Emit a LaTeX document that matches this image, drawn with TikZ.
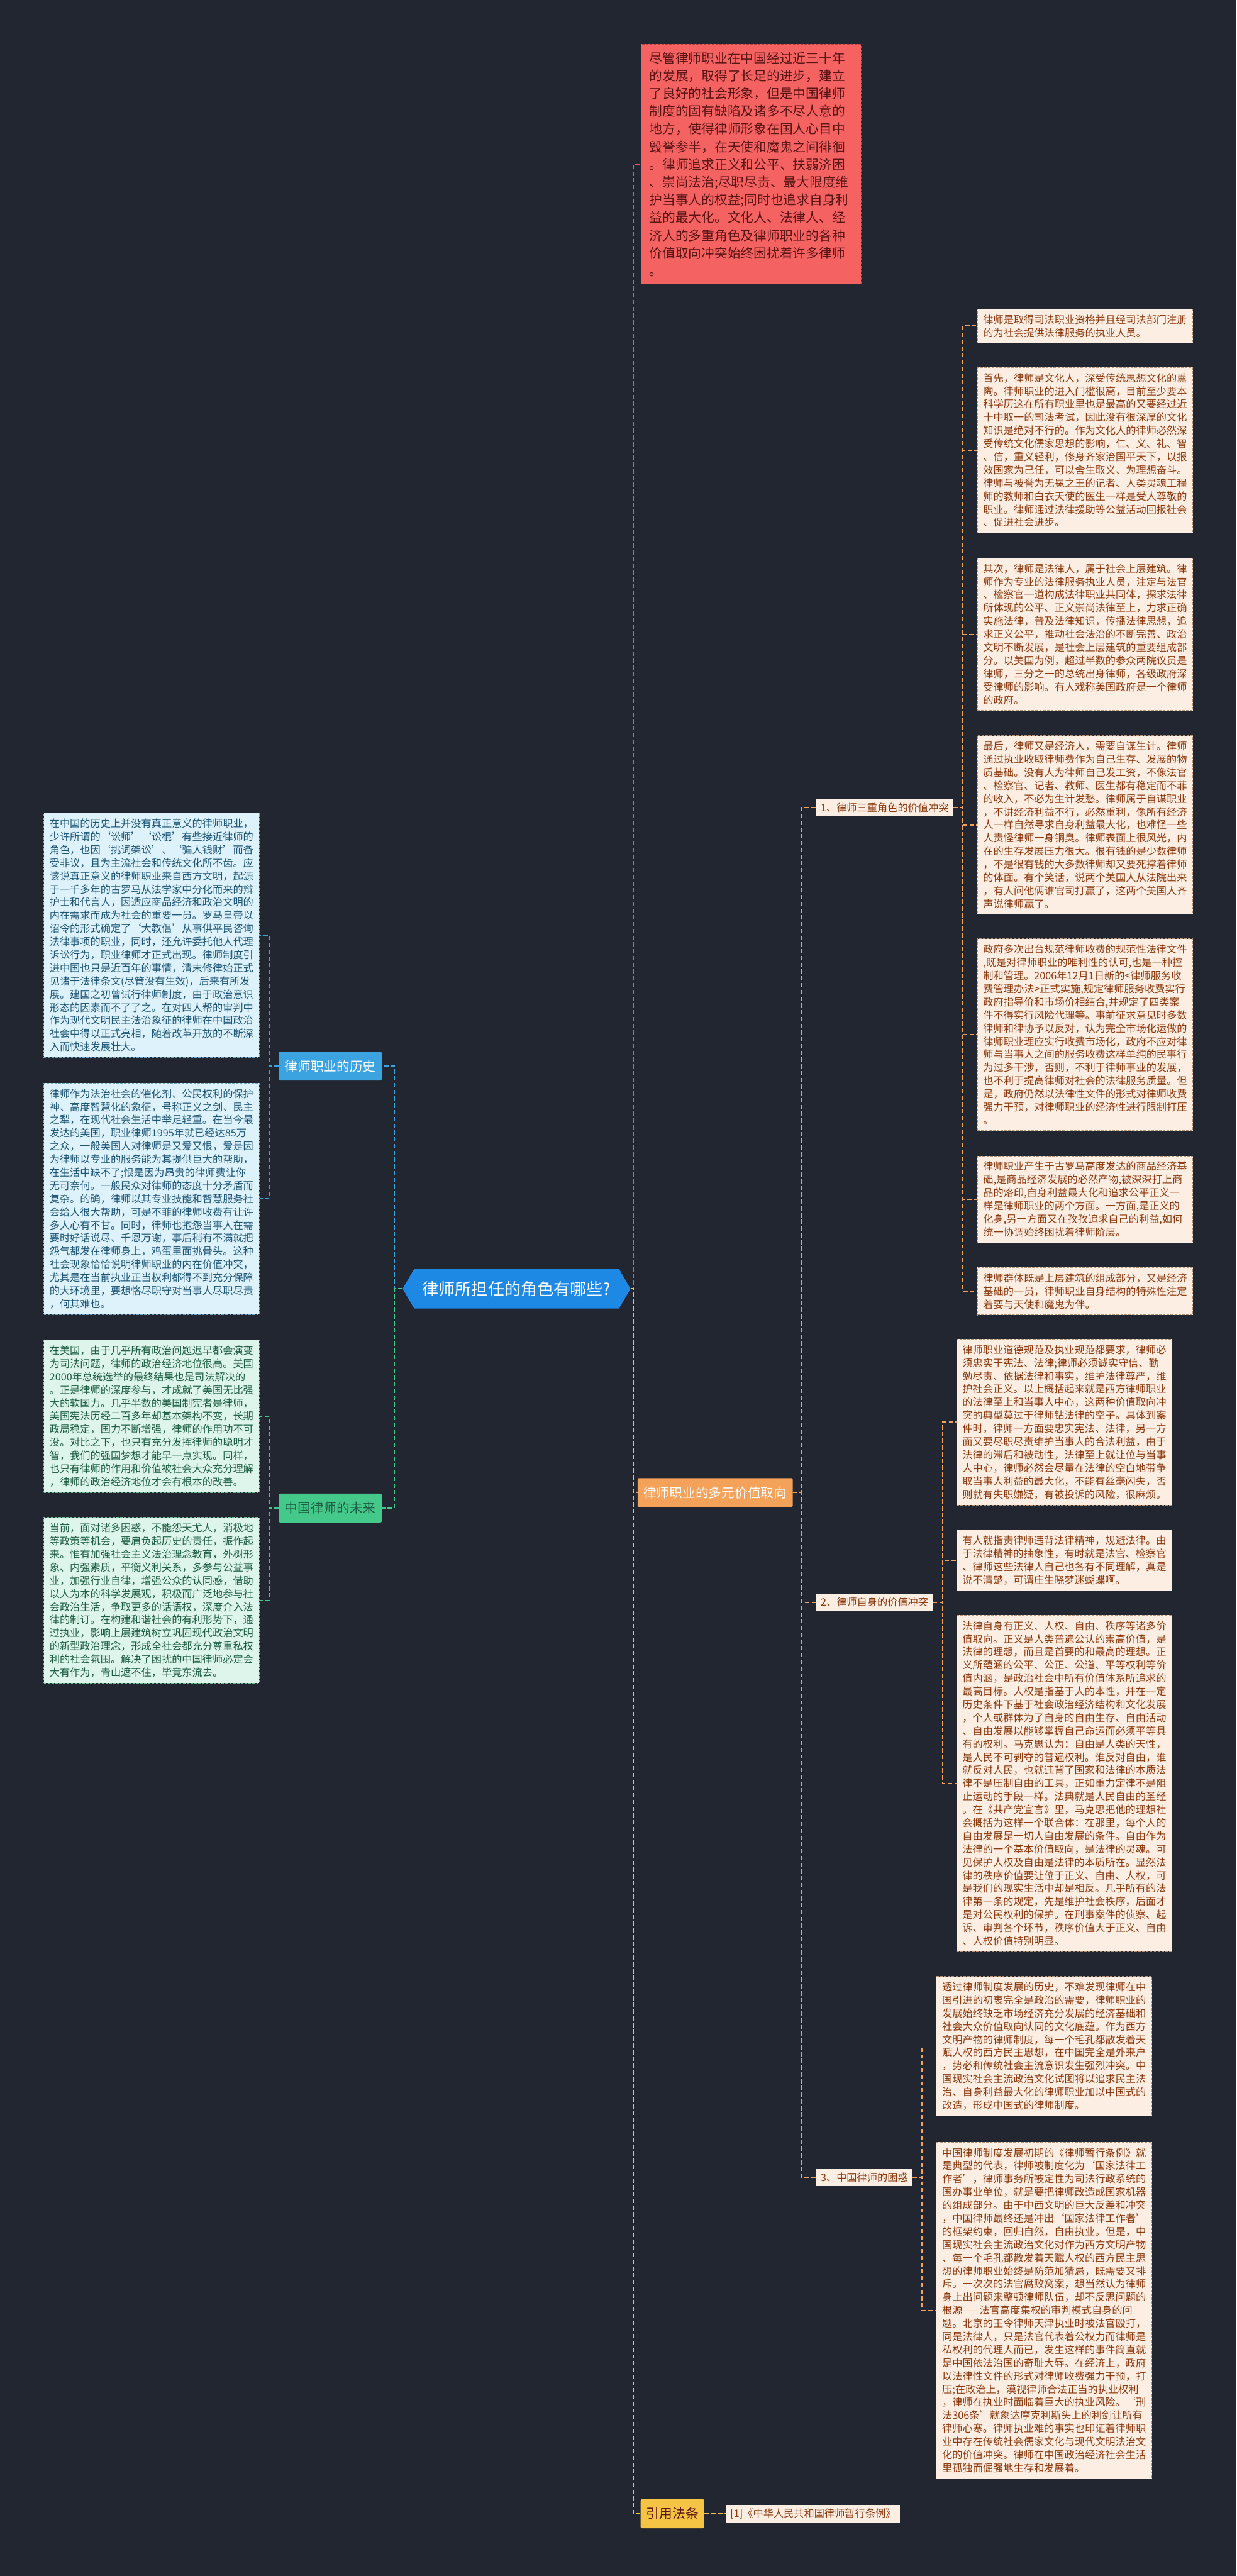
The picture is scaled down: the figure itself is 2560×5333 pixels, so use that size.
\documentclass[tikz,border=0pt]{standalone}
\usepackage{fontspec}
\setmainfont{Noto Sans CJK SC}
\usetikzlibrary{shapes.symbols}

\definecolor{bgnavy}{HTML}{222630}
\definecolor{rootblue}{HTML}{1E88E5}
\definecolor{redfill}{HTML}{F46262}
\definecolor{redtext}{HTML}{5A1414}
\definecolor{rededge}{HTML}{B84040}
\definecolor{peachfill}{HTML}{FDEEE3}
\definecolor{peachtext}{HTML}{8B3A0E}
\definecolor{peachedge}{HTML}{B89478}
\definecolor{bluefill}{HTML}{DDF2FB}
\definecolor{bluetext}{HTML}{1D5577}
\definecolor{blueedge}{HTML}{6FA8C8}
\definecolor{greenfill}{HTML}{DDF5EA}
\definecolor{greentext}{HTML}{1E5E44}
\definecolor{greenedge}{HTML}{6FBF98}
\definecolor{histblue}{HTML}{3AA3E0}
\definecolor{futuregreen}{HTML}{45C98A}
\definecolor{multiorange}{HTML}{F4A259}
\definecolor{citeyellow}{HTML}{F6C445}
\definecolor{introred}{HTML}{E85A5A}

\tikzset{
  leaf/.style={draw, line width=1.2pt, dash pattern=on 5pt off 3pt, anchor=west,
    align=left, text width=422pt, inner xsep=12pt, inner ysep=12pt,
    font=\fontsize{21.1pt}{27.2pt}\selectfont},
  peachleaf/.style={leaf, fill=peachfill, draw=peachedge, text=peachtext},
  blueleaf/.style={leaf, fill=bluefill, draw=blueedge, text=bluetext},
  greenleaf/.style={leaf, fill=greenfill, draw=greenedge, text=greentext},
  introbox/.style={draw=rededge, line width=1.2pt, dash pattern=on 5pt off 3pt,
    fill=redfill, text=redtext, anchor=west, align=left, text width=421pt,
    inner xsep=17pt, inner ysep=16pt, font=\fontsize{27pt}{36.7pt}\selectfont},
  rootnode/.style={signal, signal to=west and east, signal pointer angle=120,
    fill=rootblue, text=white, inner xsep=17pt, minimum height=82pt,
    font=\fontsize{34pt}{40pt}\selectfont},
  branch/.style={rounded corners=3pt, anchor=west, inner xsep=12pt,
    minimum height=60pt, font=\fontsize{27pt}{32pt}\selectfont},
  sublabel/.style={fill=peachfill, text=peachtext, anchor=west, inner xsep=9pt,
    minimum height=36pt, font=\fontsize{21.1pt}{25pt}\selectfont},
  link/.style={line width=2.5pt, dash pattern=on 9pt off 5pt},
}

\begin{document}
\begin{tikzpicture}[x=1pt,y=-1pt]
\useasboundingbox (0,0) rectangle (2560,5333);
\fill[bgnavy] (0,0) rectangle (2560,5333);

% root
\node (root) [rootnode] at (1069.5,2668) {律师所担任的角色有哪些?};

% left: history
\node (hist) [branch, fill=histblue, text=white] at (577,2207) {律师职业的历史};
\node (h1) [blueleaf] at (90,1936) {在中国的历史上并没有真正意义的律师职业，\\
少许所谓的‘讼师’‘讼棍’有些接近律师的\\
角色，也因‘挑词架讼’、‘骗人钱财’而备\\
受非议，且为主流社会和传统文化所不齿。应\\
该说真正意义的律师职业来自西方文明，起源\\
于一千多年的古罗马从法学家中分化而来的辩\\
护士和代言人，因适应商品经济和政治文明的\\
内在需求而成为社会的重要一员。罗马皇帝以\\
诏令的形式确定了‘大教侣’从事供平民咨询\\
法律事项的职业，同时，还允许委托他人代理\\
诉讼行为，职业律师才正式出现。律师制度引\\
进中国也只是近百年的事情，清末修律始正式\\
见诸于法律条文(尽管没有生效)，后来有所发\\
展。建国之初曾试行律师制度，由于政治意识\\
形态的因素而不了了之。在对四人帮的审判中\\
作为现代文明民主法治象征的律师在中国政治\\
社会中得以正式亮相，随着改革开放的不断深\\
入而快速发展壮大。};
\node (h2) [blueleaf] at (90,2482) {律师作为法治社会的催化剂、公民权利的保护\\
神、高度智慧化的象征，号称正义之剑、民主\\
之犁，在现代社会生活中举足轻重。在当今最\\
发达的美国，职业律师1995年就已经达85万\\
之众，一般美国人对律师是又爱又恨，爱是因\\
为律师以专业的服务能为其提供巨大的帮助，\\
在生活中缺不了;恨是因为昂贵的律师费让你\\
无可奈何。一般民众对律师的态度十分矛盾而\\
复杂。的确，律师以其专业技能和智慧服务社\\
会给人很大帮助，可是不菲的律师收费有让许\\
多人心有不甘。同时，律师也抱怨当事人在需\\
要时好话说尽、千恩万谢，事后稍有不满就把\\
怨气都发在律师身上，鸡蛋里面挑骨头。这种\\
社会现象恰恰说明律师职业的内在价值冲突，\\
尤其是在当前执业正当权利都得不到充分保障\\
的大环境里，要想恪尽职守对当事人尽职尽责\\
，何其难也。};

% left: future
\node (future) [branch, fill=futuregreen, text=greentext] at (577,3122) {中国律师的未来};
\node (f1) [greenleaf] at (90,2932) {在美国，由于几乎所有政治问题迟早都会演变\\
为司法问题，律师的政治经济地位很高。美国\\
2000年总统选举的最终结果也是司法解决的\\
。正是律师的深度参与，才成就了美国无比强\\
大的软国力。几乎半数的美国制宪者是律师，\\
美国宪法历经二百多年却基本架构不变，长期\\
政局稳定，国力不断增强，律师的作用功不可\\
没。对比之下，也只有充分发挥律师的聪明才\\
智，我们的强国梦想才能早一点实现。同样，\\
也只有律师的作用和价值被社会大众充分理解\\
，律师的政治经济地位才会有根本的改善。};
\node (f2) [greenleaf] at (90,3313) {当前，面对诸多困惑，不能怨天尤人，消极地\\
等政策等机会，要肩负起历史的责任，振作起\\
来。惟有加强社会主义法治理念教育，外树形\\
象、内强素质，平衡义利关系，多参与公益事\\
业，加强行业自律，增强公众的认同感，借助\\
以人为本的科学发展观，积极而广泛地参与社\\
会政治生活，争取更多的话语权，深度介入法\\
律的制订。在构建和谐社会的有利形势下，通\\
过执业，影响上层建筑树立巩固现代政治文明\\
的新型政治理念，形成全社会都充分尊重私权\\
利的社会氛围。解决了困扰的中国律师必定会\\
大有作为，青山遮不住，毕竟东流去。};

% right: intro
\node (intro) [introbox] at (1327,340) {尽管律师职业在中国经过近三十年\\
的发展，取得了长足的进步，建立\\
了良好的社会形象，但是中国律师\\
制度的固有缺陷及诸多不尽人意的\\
地方，使得律师形象在国人心目中\\
毁誉参半，在天使和魔鬼之间徘徊\\
。律师追求正义和公平、扶弱济困\\
、崇尚法治;尽职尽责、最大限度维\\
护当事人的权益;同时也追求自身利\\
益的最大化。文化人、法律人、经\\
济人的多重角色及律师职业的各种\\
价值取向冲突始终困扰着许多律师\\
。};

% right: multiple values
\node (multi) [branch, fill=multiorange, text=white] at (1320,3090) {律师职业的多元价值取向};
\node (roles) [sublabel] at (1690,1672) {1、律师三重角色的价值冲突};
\node (selfv) [sublabel] at (1690,3317) {2、律师自身的价值冲突};
\node (puzzle) [sublabel] at (1690,4508) {3、中国律师的困惑};

\node (r1) [peachleaf] at (2023,675) {律师是取得司法职业资格并且经司法部门注册\\
的为社会提供法律服务的执业人员。};
\node (r2) [peachleaf] at (2023,932) {首先，律师是文化人，深受传统思想文化的熏\\
陶。律师职业的进入门槛很高，目前至少要本\\
科学历这在所有职业里也是最高的又要经过近\\
十中取一的司法考试，因此没有很深厚的文化\\
知识是绝对不行的。作为文化人的律师必然深\\
受传统文化儒家思想的影响，仁、义、礼、智\\
、信，重义轻利，修身齐家治国平天下，以报\\
效国家为己任，可以舍生取义、为理想奋斗。\\
律师与被誉为无冕之王的记者、人类灵魂工程\\
师的教师和白衣天使的医生一样是受人尊敬的\\
职业。律师通过法律援助等公益活动回报社会\\
、促进社会进步。};
\node (r3) [peachleaf] at (2023,1313) {其次，律师是法律人，属于社会上层建筑。律\\
师作为专业的法律服务执业人员，注定与法官\\
、检察官一道构成法律职业共同体，探求法律\\
所体现的公平、正义崇尚法律至上，力求正确\\
实施法律，普及法律知识，传播法律思想，追\\
求正义公平，推动社会法治的不断完善、政治\\
文明不断发展，是社会上层建筑的重要组成部\\
分。以美国为例，超过半数的参众两院议员是\\
律师，三分之一的总统出身律师，各级政府深\\
受律师的影响。有人戏称美国政府是一个律师\\
的政府。};
\node (r4) [peachleaf] at (2023,1708) {最后，律师又是经济人，需要自谋生计。律师\\
通过执业收取律师费作为自己生存、发展的物\\
质基础。没有人为律师自己发工资，不像法官\\
、检察官、记者、教师、医生都有稳定而不菲\\
的收入，不必为生计发愁。律师属于自谋职业\\
，不讲经济利益不行，必然重利，像所有经济\\
人一样自然寻求自身利益最大化，也难怪一些\\
人责怪律师一身铜臭。律师表面上很风光，内\\
在的生存发展压力很大。很有钱的是少数律师\\
，不是很有钱的大多数律师却又要死撑着律师\\
的体面。有个笑话，说两个美国人从法院出来\\
，有人问他俩谁官司打赢了，这两个美国人齐\\
声说律师赢了。};
\node (r5) [peachleaf] at (2023,2142) {政府多次出台规范律师收费的规范性法律文件\\
,既是对律师职业的唯利性的认可,也是一种控\\
制和管理。2006年12月1日新的<律师服务收\\
费管理办法>正式实施,规定律师服务收费实行\\
政府指导价和市场价相结合,并规定了四类案\\
件不得实行风险代理等。事前征求意见时多数\\
律师和律协予以反对，认为完全市场化运做的\\
律师职业理应实行收费市场化，政府不应对律\\
师与当事人之间的服务收费这样单纯的民事行\\
为过多干涉，否则，不利于律师事业的发展，\\
也不利于提高律师对社会的法律服务质量。但\\
是，政府仍然以法律性文件的形式对律师收费\\
强力干预，对律师职业的经济性进行限制打压\\
。};
\node (r6) [peachleaf] at (2023,2483) {律师职业产生于古罗马高度发达的商品经济基\\
础,是商品经济发展的必然产物,被深深打上商\\
品的烙印,自身利益最大化和追求公平正义一\\
样是律师职业的两个方面。一方面,是正义的\\
化身,另一方面又在孜孜追求自己的利益,如何\\
统一协调始终困扰着律师阶层。};
\node (r7) [peachleaf] at (2023,2673) {律师群体既是上层建筑的组成部分，又是经济\\
基础的一员，律师职业自身结构的特殊性注定\\
着要与天使和魔鬼为伴。};

\node (s1) [peachleaf] at (1980,2944) {律师职业道德规范及执业规范都要求，律师必\\
须忠实于宪法、法律;律师必须诚实守信、勤\\
勉尽责、依据法律和事实，维护法律尊严，维\\
护社会正义。以上概括起来就是西方律师职业\\
的法律至上和当事人中心，这两种价值取向冲\\
突的典型莫过于律师钻法律的空子。具体到案\\
件时，律师一方面要忠实宪法、法律，另一方\\
面又要尽职尽责维护当事人的合法利益，由于\\
法律的滞后和被动性，法律至上就让位与当事\\
人中心，律师必然会尽量在法律的空白地带争\\
取当事人利益的最大化，不能有丝毫闪失，否\\
则就有失职嫌疑，有被投诉的风险，很麻烦。};
\node (s2) [peachleaf] at (1980,3230) {有人就指责律师违背法律精神，规避法律。由\\
于法律精神的抽象性，有时就是法官、检察官\\
、律师这些法律人自己也各有不同理解，真是\\
说不清楚，可谓庄生晓梦迷蝴蝶啊。};
\node (s3) [peachleaf] at (1980,3692) {法律自身有正义、人权、自由、秩序等诸多价\\
值取向。正义是人类普遍公认的崇高价值，是\\
法律的理想，而且是首要的和最高的理想。正\\
义所蕴涵的公平、公正、公道、平等权利等价\\
值内涵，是政治社会中所有价值体系所追求的\\
最高目标。人权是指基于人的本性，并在一定\\
历史条件下基于社会政治经济结构和文化发展\\
，个人或群体为了自身的自由生存、自由活动\\
、自由发展以能够掌握自己命运而必须平等具\\
有的权利。马克思认为：自由是人类的天性，\\
是人民不可剥夺的普遍权利。谁反对自由，谁\\
就反对人民，也就违背了国家和法律的本质法\\
律不是压制自由的工具，正如重力定律不是阻\\
止运动的手段一样。法典就是人民自由的圣经\\
。在《共产党宣言》里，马克思把他的理想社\\
会概括为这样一个联合体：在那里，每个人的\\
自由发展是一切人自由发展的条件。自由作为\\
法律的一个基本价值取向，是法律的灵魂。可\\
见保护人权及自由是法律的本质所在。显然法\\
律的秩序价值要让位于正义、自由、人权，可\\
是我们的现实生活中却是相反。几乎所有的法\\
律第一条的规定，先是维护社会秩序，后面才\\
是对公民权利的保护。在刑事案件的侦察、起\\
诉、审判各个环节，秩序价值大于正义、自由\\
、人权价值特别明显。};

\node (t1) [peachleaf] at (1938,4236) {透过律师制度发展的历史，不难发现律师在中\\
国引进的初衷完全是政治的需要，律师职业的\\
发展始终缺乏市场经济充分发展的经济基础和\\
社会大众价值取向认同的文化底蕴。作为西方\\
文明产物的律师制度，每一个毛孔都散发着天\\
赋人权的西方民主思想，在中国完全是外来户\\
，势必和传统社会主流意识发生强烈冲突。中\\
国现实社会主流政治文化试图将以追求民主法\\
治、自身利益最大化的律师职业加以中国式的\\
改造，形成中国式的律师制度。};
\node (t2) [peachleaf] at (1938,4783) {中国律师制度发展初期的《律师暂行条例》就\\
是典型的代表，律师被制度化为‘国家法律工\\
作者’，律师事务所被定性为司法行政系统的\\
国办事业单位，就是要把律师改造成国家机器\\
的组成部分。由于中西文明的巨大反差和冲突\\
，中国律师最终还是冲出‘国家法律工作者’\\
的框架约束，回归自然，自由执业。但是，中\\
国现实社会主流政治文化对作为西方文明产物\\
、每一个毛孔都散发着天赋人权的西方民主思\\
想的律师职业始终是防范加猜忌，既需要又排\\
斥。一次次的法官腐败窝案，想当然认为律师\\
身上出问题来整顿律师队伍，却不反思问题的\\
根源——法官高度集权的审判模式自身的问\\
题。北京的王令律师天津执业时被法官殴打，\\
同是法律人，只是法官代表着公权力而律师是\\
私权利的代理人而已，发生这样的事件简直就\\
是中国依法治国的奇耻大辱。在经济上，政府\\
以法律性文件的形式对律师收费强力干预，打\\
压;在政治上，漠视律师合法正当的执业权利\\
，律师在执业时面临着巨大的执业风险。‘刑\\
法306条’就象达摩克利斯头上的利剑让所有\\
律师心寒。律师执业难的事实也印证着律师职\\
业中存在传统社会儒家文化与现代文明法治文\\
化的价值冲突。律师在中国政治经济社会生活\\
里孤独而倔强地生存和发展着。};

% right: citation
\node (cite) [branch, fill=citeyellow, text=redtext] at (1326,5204) {引用法条};
\node (law1) [sublabel] at (1503,5204) {[1]《中华人民共和国律师暂行条例》};

% connectors, left
\draw [link, histblue] (root.west) -- ++(-17,0) |- (hist.east);
\draw [link, futuregreen] (root.west) -- ++(-17,0) |- (future.east);
\draw [link, histblue] (hist.west) -- ++(-20,0) |- (h1.east);
\draw [link, histblue] (hist.west) -- ++(-20,0) |- (h2.east);
\draw [link, futuregreen] (future.west) -- ++(-20,0) |- (f1.east);
\draw [link, futuregreen] (future.west) -- ++(-20,0) |- (f2.east);

% connectors, right
\draw [link, introred] (root.east) -- ++(6,0) |- (intro.west);
\draw [link, multiorange] (root.east) -- ++(6,0) |- (multi.west);
\draw [link, citeyellow] (root.east) -- ++(6,0) |- (cite.west);
\foreach \sub in {roles,selfv,puzzle}
  \draw [link, multiorange] (multi.east) -- ++(18,0) |- (\sub.west);
\foreach \leaf in {r1,r2,r3,r4,r5,r6,r7}
  \draw [link, multiorange] (roles.east) -- ++(20,0) |- (\leaf.west);
\foreach \leaf in {s1,s2,s3}
  \draw [link, multiorange] (selfv.east) -- ++(20,0) |- (\leaf.west);
\foreach \leaf in {t1,t2}
  \draw [link, multiorange] (puzzle.east) -- ++(20,0) |- (\leaf.west);
\draw [link, citeyellow] (cite.east) -- (law1.west);
\end{tikzpicture}
\end{document}
